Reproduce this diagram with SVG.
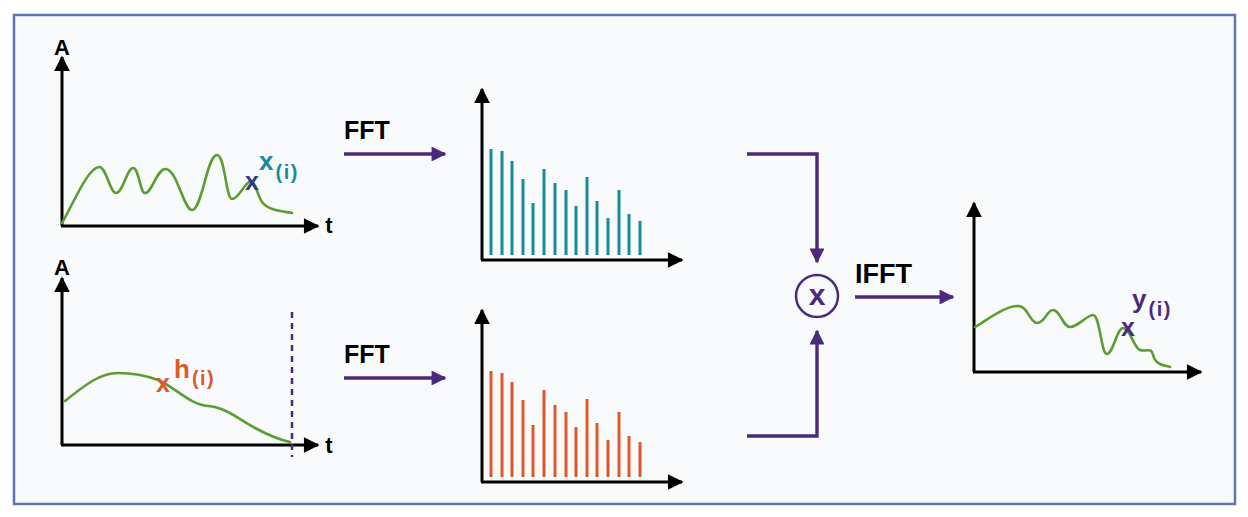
<svg xmlns="http://www.w3.org/2000/svg" width="1248" height="517" viewBox="0 0 1248 517">
<defs>
<marker id="ah" viewBox="0 0 10 10" refX="9" refY="5" markerWidth="6" markerHeight="5.2" markerUnits="strokeWidth" orient="auto"><path d="M0,0 L10,5 L0,10 Z" fill="#000"/></marker>
<marker id="ap" viewBox="0 0 10 10" refX="9" refY="5" markerWidth="6" markerHeight="4.4" markerUnits="strokeWidth" orient="auto"><path d="M0,0 L10,5 L0,10 Z" fill="#4b2a7b"/></marker>
</defs>
<style>
.ax{fill:none;stroke:#000;stroke-width:3;marker-end:url(#ah)}
.wave{fill:none;stroke:#5a9e32;stroke-width:2.6;stroke-linecap:round;stroke-linejoin:round}
.bt{stroke:#1b8a9b;stroke-width:3}
.bo{stroke:#e0582a;stroke-width:3}
.con{fill:none;stroke:#4b2a7b;stroke-width:3.4;marker-end:url(#ap)}
.lbl{font-family:"Liberation Sans",Arial,sans-serif;font-weight:bold}
.sub{font-size:20px;letter-spacing:1.5px}
</style>
<rect x="14" y="15" width="1221" height="489" fill="#f8fafb" stroke="#5b76b5" stroke-width="2.5"/>

<g id="chart-x">
<path class="ax" d="M62,226 V57"/>
<path class="ax" d="M61,226 H318"/>
<text class="lbl" x="62" y="55" font-size="22" text-anchor="middle">A</text>
<text class="lbl" x="329" y="233" font-size="22" text-anchor="middle">t</text>
<path class="wave" d="M62,223 C75,200 88,168 99,167 C106,166 110,193 116,193 C123,193 127,168 133,168 C139,168 140,193 145,193 C152,193 157,168 166,169 C177,170 184,210 192,210 C202,210 207,155 217,155 C225,155 226,199 232,199 C238,199 243,186 249,182 C255,178 257,195 262,202 C268,210 280,211 292,213"/>
<text class="lbl" x="252" y="190" font-size="25" fill="#2e3d86" text-anchor="middle">x</text>
<text class="lbl" x="259" y="170" font-size="26" fill="#1b8a9b">x<tspan class="sub" dx="2" dy="9">(i)</tspan></text>
</g>

<g id="chart-h">
<path class="ax" d="M62,445 V278"/>
<path class="ax" d="M61,445 H318"/>
<text class="lbl" x="62" y="275" font-size="22" text-anchor="middle">A</text>
<text class="lbl" x="329" y="453" font-size="22" text-anchor="middle">t</text>
<path class="wave" d="M65,401 C85,385 100,373 118,373 C135,373 150,377 158,380 C175,387 190,405 208,406 C225,407 240,420 255,428 C270,436 280,440 290,442"/>
<line x1="292" y1="312" x2="292" y2="457" stroke="#4b2a7b" stroke-width="2.5" stroke-dasharray="6,5"/>
<text class="lbl" x="163" y="392" font-size="25" fill="#e0582a" text-anchor="middle">x</text>
<text class="lbl" x="174" y="378" font-size="26" fill="#e0582a">h<tspan class="sub" dx="2" dy="7">(i)</tspan></text>
</g>

<g id="fft-top">
<text class="lbl" x="344" y="139" font-size="25">FFT</text>
</g>
<g id="fft-bottom">
<text class="lbl" x="344" y="363" font-size="25">FFT</text>
</g>

<g id="spectrum-x">
<path class="ax" d="M482,260 V89"/>
<path class="ax" d="M481,260 H682"/>
<g class="bt">
<line x1="491" y1="255" x2="491" y2="149"/><line x1="502" y1="255" x2="502" y2="151"/><line x1="512" y1="255" x2="512" y2="161"/><line x1="523" y1="255" x2="523" y2="179"/><line x1="533" y1="255" x2="533" y2="203"/><line x1="544" y1="255" x2="544" y2="169"/><line x1="555" y1="255" x2="555" y2="183"/><line x1="566" y1="255" x2="566" y2="190"/><line x1="576" y1="255" x2="576" y2="206"/><line x1="587" y1="255" x2="587" y2="177"/><line x1="597" y1="255" x2="597" y2="201"/><line x1="608" y1="255" x2="608" y2="218"/><line x1="619" y1="255" x2="619" y2="190"/><line x1="629" y1="255" x2="629" y2="214"/><line x1="640" y1="255" x2="640" y2="221"/>
</g>
</g>

<g id="spectrum-h">
<path class="ax" d="M482,482 V310"/>
<path class="ax" d="M481,482 H682"/>
<g class="bo">
<line x1="491" y1="477" x2="491" y2="371"/><line x1="502" y1="477" x2="502" y2="373"/><line x1="512" y1="477" x2="512" y2="382"/><line x1="523" y1="477" x2="523" y2="400"/><line x1="533" y1="477" x2="533" y2="425"/><line x1="544" y1="477" x2="544" y2="390"/><line x1="555" y1="477" x2="555" y2="405"/><line x1="566" y1="477" x2="566" y2="412"/><line x1="576" y1="477" x2="576" y2="427"/><line x1="587" y1="477" x2="587" y2="399"/><line x1="597" y1="477" x2="597" y2="423"/><line x1="608" y1="477" x2="608" y2="440"/><line x1="619" y1="477" x2="619" y2="412"/><line x1="629" y1="477" x2="629" y2="436"/><line x1="640" y1="477" x2="640" y2="442"/>
</g>
</g>

<g id="multiply">
<circle cx="817" cy="296" r="21" fill="none" stroke="#4b2a7b" stroke-width="2.5"/>
<text class="lbl" x="817" y="305" font-size="30" fill="#4b2a7b" text-anchor="middle">x</text>
</g>

<g id="ifft">
<text class="lbl" x="855" y="283" font-size="27">IFFT</text>
</g>

<g id="chart-y">
<path class="ax" d="M974,372 V203"/>
<path class="ax" d="M973,372 H1201"/>
<path class="wave" d="M975,327 C990,318 1005,306 1018,306 C1028,306 1030,323 1037,323 C1045,323 1047,310 1053,310 C1060,310 1063,327 1070,327 C1078,327 1087,315 1093,315 C1100,315 1101,354 1107,354 C1113,354 1117,328 1123,328 C1130,328 1134,348 1140,350 C1146,352 1150,348 1152,352 C1154,358 1155,362 1160,364 C1164,366 1168,366 1170,367"/>
<text class="lbl" x="1128" y="336" font-size="25" fill="#4b2a7b" text-anchor="middle">x</text>
<text class="lbl" x="1132" y="308" font-size="26" fill="#4b2a7b">y<tspan class="sub" dx="2" dy="8">(i)</tspan></text>
</g>

<g id="connectors">
<path class="con" d="M344,154 H445"/>
<path class="con" d="M344,378 H445"/>
<path class="con" d="M747,154 H817 V262"/>
<path class="con" d="M747,436 H817 V331"/>
<path class="con" d="M855,297 H953"/>
</g>
</svg>
